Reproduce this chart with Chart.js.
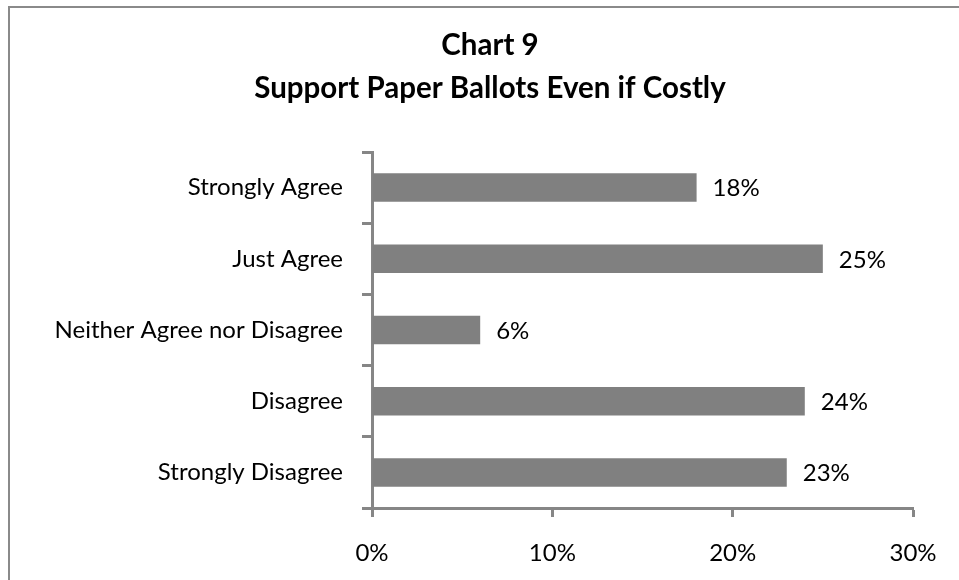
<!DOCTYPE html>
<html>
<head>
<meta charset="utf-8">
<script src="https://cdn.jsdelivr.net/npm/chart.js@4/dist/chart.umd.min.js"></script>
<style>
  html, body { margin: 0; padding: 0; background: #fff; overflow: hidden; }
  #wrap { position: relative; width: 959px; height: 580px; }
  #frame {
    position: absolute; left: 8px; top: 6px; width: 1000px; height: 1000px;
    border: 2px solid #8a8a8a; box-sizing: border-box; pointer-events: none;
  }
  canvas { position: absolute; left: 0; top: 0; }
</style>
</head>
<body>
<div id="wrap">
  <canvas id="chart" width="959" height="580"></canvas>
  <div id="frame"></div>
</div>
<script>
const categories = ['Strongly Agree', 'Just Agree', 'Neither Agree nor Disagree', 'Disagree', 'Strongly Disagree'];
const shares = [18, 25, 6, 24, 23];
const xTicks = [0, 10, 20, 30];
const titleLines = ['Chart 9', 'Support Paper Ballots Even if Costly'];

const FONT = "Lato, 'Open Sans', sans-serif";
const AXIS_GRAY = '#868686';

// two-line heading, centred a little right of the canvas middle
const heading = {
  id: 'heading',
  afterDraw(chart) {
    const { ctx } = chart;
    ctx.save();
    ctx.font = 'bold 29.5px ' + FONT;
    ctx.fillStyle = '#000';
    ctx.textAlign = 'center';
    ctx.textBaseline = 'middle';
    titleLines.forEach((line, i) => ctx.fillText(line, 490, 45 + i * 43));
    ctx.restore();
  }
};

// writes the percentage just past the end of each bar
const valueLabels = {
  id: 'valueLabels',
  afterDatasetsDraw(chart) {
    const { ctx } = chart;
    const meta = chart.getDatasetMeta(0);
    ctx.save();
    ctx.font = '24px ' + FONT;
    ctx.fillStyle = '#000';
    ctx.textAlign = 'left';
    ctx.textBaseline = 'middle';
    meta.data.forEach((bar, i) => {
      ctx.fillText(shares[i] + '%', bar.x + 16, bar.y + 1);
    });
    ctx.restore();
  }
};

new Chart(document.getElementById('chart'), {
  type: 'bar',
  data: {
    labels: categories,
    datasets: [{
      data: shares,
      backgroundColor: '#808080',
      borderWidth: 0,
      categoryPercentage: 1,
      barPercentage: 0.4
    }]
  },
  options: {
    indexAxis: 'y',
    responsive: false,
    animation: false,
    layout: { padding: { top: 152, left: 0, right: 46, bottom: 0 } },
    plugins: {
      legend: { display: false },
      tooltip: { enabled: false },
      title: { display: false }
    },
    scales: {
      x: {
        min: 0,
        max: 30,
        afterBuildTicks(axis) { axis.ticks = xTicks.map(v => ({ value: v })); },
        afterFit(axis) { axis.height = 72; },
        border: { color: AXIS_GRAY, width: 3 },
        grid: { drawOnChartArea: false, tickLength: 9, tickWidth: 3, tickColor: AXIS_GRAY },
        ticks: {
          color: '#000',
          font: { family: FONT, size: 24 },
          padding: 22,
          callback: v => v + '%'
        }
      },
      y: {
        afterFit(axis) { axis.width = 372; },
        border: { color: AXIS_GRAY, width: 3 },
        grid: { drawOnChartArea: false, offset: true, tickLength: 10, tickWidth: 3, tickColor: AXIS_GRAY },
        ticks: {
          color: '#000',
          font: { family: FONT, size: 24 },
          padding: 19
        }
      }
    }
  },
  plugins: [heading, valueLabels]
});
</script>
</body>
</html>
